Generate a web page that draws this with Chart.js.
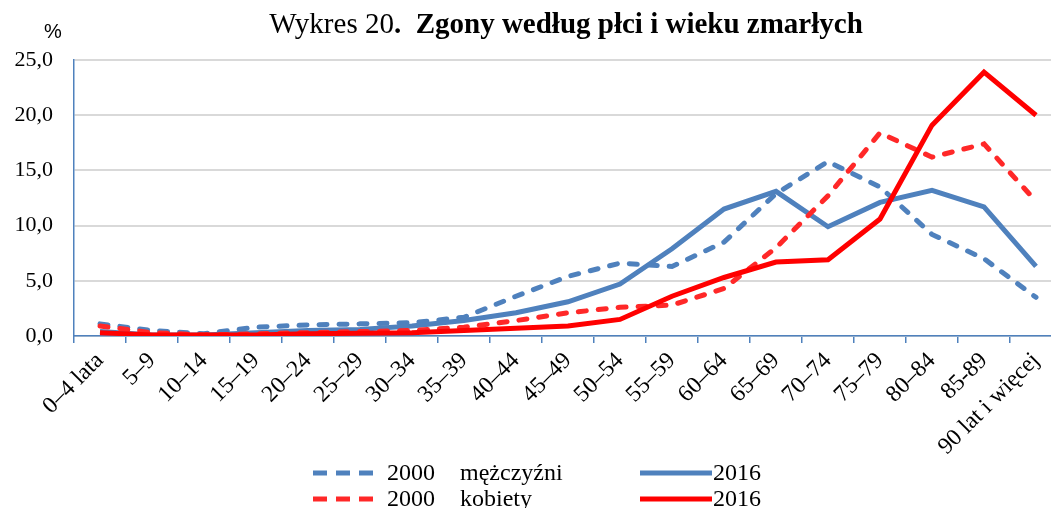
<!DOCTYPE html>
<html>
<head>
<meta charset="utf-8">
<script src="https://cdn.jsdelivr.net/npm/chart.js@4"></script>
<style>
body { margin: 0; background: #fff; overflow: hidden; }
</style>
</head>
<body>
<canvas id="wykres" width="1062" height="508"></canvas>
<script>
// grupy wieku zmarłych
const grupyWieku = ['0–4 lata', '5–9', '10–14', '15–19', '20–24', '25–29', '30–34', '35–39', '40–44',
    '45–49', '50–54', '55–59', '60–64', '65–69', '70–74', '75–79', '80–84', '85-89', '90 lat i więcej'];

// odsetek zgonów (%)
const mezczyzni2000 = [1.1, 0.5, 0.2, 0.8, 1.0, 1.1, 1.2, 1.7, 3.6, 5.4, 6.6, 6.3, 8.5, 12.9, 15.8, 13.5, 9.2, 7.0, 3.5];
const mezczyzni2016 = [0.4, 0.1, 0.1, 0.3, 0.5, 0.6, 0.9, 1.4, 2.1, 3.1, 4.7, 7.9, 11.5, 13.1, 9.9, 12.1, 13.2, 11.7, 6.3];
const kobiety2000 = [0.9, 0.3, 0.1, 0.2, 0.3, 0.4, 0.5, 0.8, 1.4, 2.1, 2.6, 2.8, 4.3, 8.0, 12.7, 18.4, 16.2, 17.4, 12.2];
const kobiety2016 = [0.3, 0.1, 0.1, 0.1, 0.2, 0.25, 0.3, 0.5, 0.7, 0.9, 1.5, 3.6, 5.3, 6.7, 6.9, 10.6, 19.1, 23.9, 20.0];

const yTicki = [0, 5, 10, 15, 20, 25];

const NIEBIESKI = 'rgb(79,129,189)';
const CZERWONY = 'rgb(255,0,0)';
const CZERWONY_PRZER = 'rgb(255,40,40)';
const SERIF = '"Liberation Serif", "Times New Roman", serif';

function seria(label, dane, kolor, przerywana, kolejnosc) {
    return {
        label: label,
        data: dane,
        borderColor: kolor,
        backgroundColor: kolor,
        borderWidth: 5,
        borderDash: przerywana ? [8, 12] : [],
        borderCapStyle: przerywana ? 'round' : 'butt',
        borderJoinStyle: 'miter',
        pointRadius: 0,
        tension: 0,
        fill: false,
        order: kolejnosc
    };
}

// tytuł i znak % nad osią
const tytulPlugin = {
    id: 'tytul',
    afterDraw(chart) {
        const ctx = chart.ctx;
        ctx.save();
        ctx.fillStyle = '#000';
        ctx.textBaseline = 'alphabetic';
        const czesc1 = 'Wykres 20';
        const czesc2 = '.  Zgony według płci i wieku zmarłych';
        ctx.font = '29px ' + SERIF;
        const w1 = ctx.measureText(czesc1).width;
        ctx.font = 'bold 29px ' + SERIF;
        const w2 = ctx.measureText(czesc2).width;
        let x = 566 - (w1 + w2) / 2;
        ctx.font = '29px ' + SERIF;
        ctx.fillText(czesc1, x, 33);
        ctx.font = 'bold 29px ' + SERIF;
        ctx.fillText(czesc2, x + w1, 33);

        ctx.font = '20px "Liberation Sans", Arial, sans-serif';
        ctx.textAlign = 'center';
        ctx.fillText('%', 53, 38);
        ctx.restore();
    }
};

// legenda 2x2 na dole
const legendaPlugin = {
    id: 'legenda',
    afterDraw(chart) {
        const ctx = chart.ctx;
        const pozycje = [
            { x: 313, y: 473 }, { x: 640, y: 473 },
            { x: 313, y: 499 }, { x: 640, y: 499 }
        ];
        ctx.save();
        chart.data.datasets.forEach((ds, i) => {
            const p = pozycje[i];
            const dl = i % 2 === 0 ? 65 : 72;
            ctx.strokeStyle = ds.borderColor;
            ctx.lineWidth = 5;
            ctx.setLineDash(ds.borderDash.length ? [14, 9] : []);
            ctx.lineCap = 'butt';
            ctx.beginPath();
            ctx.moveTo(p.x, p.y);
            ctx.lineTo(p.x + dl, p.y);
            ctx.stroke();

            ctx.setLineDash([]);
            ctx.fillStyle = '#000';
            ctx.font = '24px ' + SERIF;
            ctx.textBaseline = 'middle';
            const czesci = ds.label.split(' ');
            const tx = p.x + dl + (i % 2 === 0 ? 9 : 1);
            ctx.fillText(czesci[0], tx, p.y + 1);
            if (czesci[1]) ctx.fillText(czesci[1], tx + 73, p.y + 1);
        });
        ctx.restore();
    }
};

const ctx = document.getElementById('wykres').getContext('2d');
new Chart(ctx, {
    type: 'line',
    data: {
        labels: grupyWieku,
        datasets: [
            seria('2000 mężczyźni', mezczyzni2000, NIEBIESKI, true, 3),
            seria('2016', mezczyzni2016, NIEBIESKI, false, 2),
            seria('2000 kobiety', kobiety2000, CZERWONY_PRZER, true, 1),
            seria('2016', kobiety2016, CZERWONY, false, 0)
        ]
    },
    options: {
        responsive: false,
        animation: false,
        layout: { padding: { top: 60, left: 0, right: 0, bottom: 0 } },
        plugins: {
            legend: { display: false },
            tooltip: { enabled: false }
        },
        scales: {
            x: {
                offset: true,
                afterFit: s => { s.height = 172; },
                grid: {
                    offset: true,
                    drawOnChartArea: false,
                    drawTicks: true,
                    tickLength: 7,
                    color: NIEBIESKI,
                    lineWidth: 1.5
                },
                border: { color: NIEBIESKI, width: 1.5 },
                ticks: {
                    autoSkip: false,
                    minRotation: 45,
                    maxRotation: 45,
                    padding: 4,
                    color: '#000',
                    font: { family: SERIF, size: 23.5 }
                }
            },
            y: {
                min: 0,
                max: 25,
                afterFit: s => { s.width = 74; },
                afterBuildTicks: s => { s.ticks = yTicki.map(v => ({ value: v })); },
                grid: { color: '#d9d9d9', lineWidth: 2, drawTicks: false },
                border: { color: NIEBIESKI, width: 1.5 },
                ticks: {
                    padding: 21,
                    color: '#000',
                    font: { family: SERIF, size: 22 },
                    callback: v => v.toFixed(1).replace('.', ',')
                }
            }
        }
    },
    plugins: [tytulPlugin, legendaPlugin]
});
</script>
</body>
</html>
